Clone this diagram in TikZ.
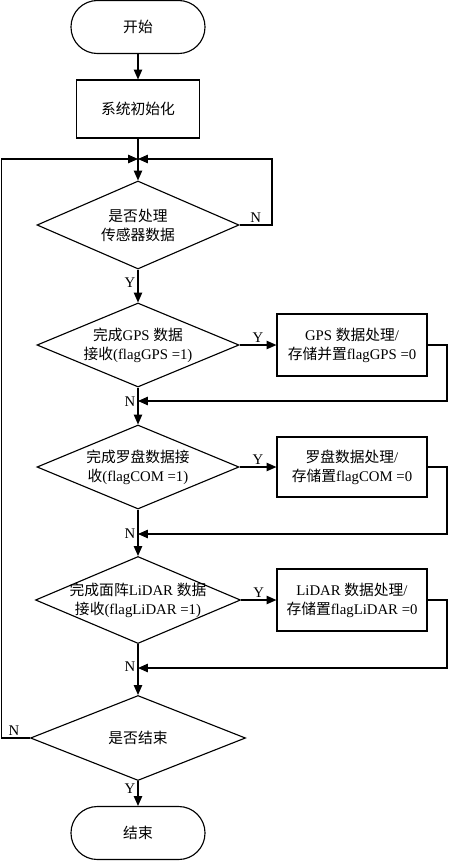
\documentclass[tikz,border=0pt]{standalone}
\usepackage{fontspec}
\setmainfont{Liberation Serif}
\newfontfamily\zhfont{Noto Sans CJK SC}
\newcommand{\zh}[1]{{\zhfont #1}}
\usetikzlibrary{arrows.meta,positioning,shapes.geometric}

\begin{document}
\begin{tikzpicture}[x=0.025cm, y=-0.025cm, line width=0.8pt,
  >={Triangle[length=7pt,width=6pt]},
  every node/.style={font=\fontsize{10.5}{13.5}\selectfont},
  term/.style={draw, rounded corners=0.66cm, minimum width=3.35cm, minimum height=1.325cm},
  proc/.style={draw, minimum width=3.75cm, minimum height=1.5cm, align=center, inner sep=1pt},
  decision/.style={draw, diamond, aspect=2.3, inner xsep=-0.6cm, inner ysep=-0.25cm,
    minimum width=5.05cm, minimum height=2.15cm, align=center},
  lbl/.style={inner sep=1.5pt}]
\useasboundingbox (0,0) rectangle (449,861);

\node[term] (start) at (138,27) {\zh{开始}};
\node[proc, minimum width=3.075cm, minimum height=1.45cm] (init) at (138,109) {\zh{系统初始化}};
\node[decision, minimum height=2.2cm] (d1) at (138,225) {\zh{是否处理}\\\zh{传感器数据}};
\node[decision, minimum height=2.1cm] (d2) at (138,345) {\zh{完成}GPS \zh{数据}\\\zh{接收}(flagGPS =1)};
\node[proc, minimum height=1.55cm] (gps) at (352,345) {GPS \zh{数据处理}/\\\zh{存储并置}flagGPS =0};
\node[decision, minimum height=2.1cm] (d3) at (138,467) {\zh{完成罗盘数据接}\\\zh{收}(flagCOM =1)};
\node[proc] (com) at (352,467) {\zh{罗盘数据处理}/\\\zh{存储置}flagCOM =0};
\node[decision, minimum width=5.125cm, minimum height=2.175cm] (d4) at (138,600) {\zh{完成面阵}LiDAR \zh{数据}\\\zh{接收}(flagLiDAR =1)};
\node[proc, minimum height=1.55cm] (lidar) at (352,600) {LiDAR \zh{数据处理}/\\\zh{存储置}flagLiDAR =0};
\node[decision, minimum width=5.375cm, minimum height=2.125cm] (d5) at (138,738) {\zh{是否结束}};
\node[term] (stop) at (138,833) {\zh{结束}};

\coordinate (m) at (138,159);
\coordinate (j1) at (138,401);
\coordinate (j2) at (138,534);
\coordinate (j3) at (138,668);

\draw[->] (start) -- (init);
\draw[->] (init) -- (d1);
\draw[->] (d1.east) -- node[lbl, above]{N} ++(32.4,0) |- (m);
\draw[->] (d5.west) -- node[lbl, above, pos=0.55]{N} ++(-28.8,0) |- (m);
\draw[->] (d1) -- node[lbl, left, pos=0.4]{Y} (d2);
\draw[->] (d2) -- node[lbl, above]{Y} (gps);
\draw[->] (gps.east) -- ++(19.4,0) |- (j1);
\draw[->] (d2) -- node[lbl, left, pos=0.37]{N} (d3);
\draw[->] (d3) -- node[lbl, above]{Y} (com);
\draw[->] (com.east) -- ++(19.4,0) |- (j2);
\draw[->] (d3) -- node[lbl, left, pos=0.53]{N} (d4);
\draw[->] (d4) -- node[lbl, above]{Y} (lidar);
\draw[->] (lidar.east) -- ++(19.4,0) |- (j3);
\draw[->] (d4) -- node[lbl, left, pos=0.45]{N} (d5);
\draw[->] (d5) -- node[lbl, left, pos=0.3]{Y} (stop);
\end{tikzpicture}
\end{document}
